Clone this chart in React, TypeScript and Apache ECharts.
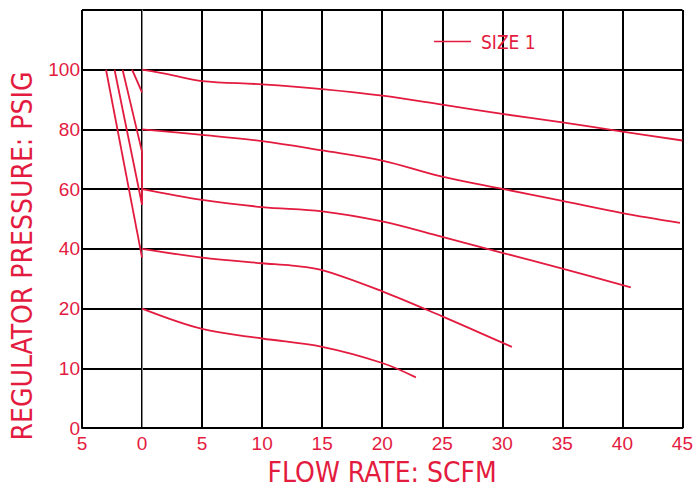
import React, { useEffect, useRef } from "react";
import * as echarts from "echarts";

// Flow (SCFM) and regulator pressure (PSIG)
const curve100X = [0, 2.5, 5, 10, 15, 20, 25, 30, 35, 40, 45];
const curve100Y = [100, 98.2, 96.2, 95.1, 93.5, 91.3, 88.3, 85.2, 82.4, 79.3, 76.3];
const curve80X = [0, 5, 10, 15, 20, 25, 30, 35, 40, 44.8];
const curve80Y = [80, 78.2, 76.1, 73, 69.6, 64.2, 60.1, 56.1, 52.0, 48.7];
const curve60X = [0, 5, 10, 15, 20, 25, 30, 35, 40.7];
const curve60Y = [60, 56.4, 54.0, 52.6, 49.2, 44, 38.7, 33.4, 27.1];
const curve40X = [0, 5, 10, 12.5, 15, 20, 25, 30, 30.8];
const curve40Y = [40, 37.1, 35.2, 34.4, 32.9, 25.8, 18.7, 14.3, 13.6];
const curve20X = [0, 5, 10, 15, 20, 22.8];
const curve20Y = [20, 16.6, 15.0, 13.6, 10.9, 8.5];
// relief / zero-flow lines on the left side
const reliefAX = [-0.83, 0];
const reliefAY = [100, 92.4];
const reliefBX = [-1.62, 0, 0];
const reliefBY = [100, 72.5, 54.8];
const reliefCX = [-2.29, 0];
const reliefCY = [100, 54.8];
const reliefDX = [-3.0, 0];
const reliefDY = [100, 37.1];

const xTicks = [-5, 0, 5, 10, 15, 20, 25, 30, 35, 40, 45];
const yTickLabels = ["0", "10", "20", "40", "60", "80", "100", ""];
const seriesName = "SIZE 1";

const RED = "#e31b3f";

// the printed pressure scale is 10 psig per grid row below 20, 20 psig per row above
function toAxis(p: number): number {
  return p >= 20 ? p + 20 : p * 2;
}

function pairs(xs: number[], ys: number[]) {
  return xs.map((x, i) => [x, toAxis(ys[i])]);
}

export default function App() {
  const ref = useRef<HTMLDivElement>(null);
  useEffect(() => {
    if (!ref.current) return;
    const chart = echarts.init(ref.current, undefined, { renderer: "svg" });
    const curves = [
      { xs: curve100X, ys: curve100Y, smooth: true },
      { xs: curve80X, ys: curve80Y, smooth: true },
      { xs: curve60X, ys: curve60Y, smooth: true },
      { xs: curve40X, ys: curve40Y, smooth: true },
      { xs: curve20X, ys: curve20Y, smooth: true },
      { xs: reliefAX, ys: reliefAY, smooth: false },
      { xs: reliefBX, ys: reliefBY, smooth: false },
      { xs: reliefCX, ys: reliefCY, smooth: false },
      { xs: reliefDX, ys: reliefDY, smooth: false },
    ];
    const condensed = "'Liberation Sans Narrow', 'DejaVu Sans Condensed', 'Roboto Condensed', sans-serif";
    chart.setOption({
      animation: false,
      backgroundColor: "#ffffff",
      grid: { left: 82, right: 10, top: 10, bottom: 59, containLabel: false },
      legend: {
        data: [seriesName],
        left: 429,
        top: 27,
        itemWidth: 37,
        itemHeight: 14,
        itemGap: 0,
        icon: "path://M0,6 L37,6 L37,7.6 L0,7.6 Z",
        itemStyle: { color: RED },
        textStyle: {
          color: RED,
          fontSize: 19,
          fontFamily: condensed,
          padding: [0, 0, 0, 5],
        },
      },
      xAxis: {
        type: "value",
        min: -5,
        max: 45,
        interval: 5,
        name: "FLOW RATE: SCFM",
        nameLocation: "middle",
        nameGap: 22,
        nameTextStyle: { color: RED, fontSize: 28, fontFamily: condensed },
        axisLine: { show: true, lineStyle: { color: "#000", width: 2 } },
        axisTick: { show: false },
        axisLabel: {
          color: RED,
          fontSize: 19,
          fontFamily: "'Liberation Sans', Arial, sans-serif",
          margin: 6,
          formatter: (v: number) => (xTicks.indexOf(v) >= 0 ? String(Math.abs(v)) : ""),
        },
        splitLine: { show: true, lineStyle: { color: "#000", width: 2 } },
      },
      yAxis: {
        type: "value",
        min: 0,
        max: 140,
        interval: 20,
        axisLine: { show: true, lineStyle: { color: "#888", width: 1 } },
        axisTick: { show: false },
        axisLabel: {
          color: RED,
          fontSize: 19,
          fontFamily: "'Liberation Sans', Arial, sans-serif",
          margin: 2,
          formatter: (v: number) => yTickLabels[Math.round(v / 20)] ?? "",
        },
        splitLine: { show: true, lineStyle: { color: "#000", width: 2 } },
      },
      graphic: [
        {
          type: "text",
          x: 22,
          y: 256,
          rotation: Math.PI / 2,
          style: {
            text: "REGULATOR PRESSURE: PSIG",
            fill: RED,
            font: `28px ${condensed}`,
            textAlign: "center",
            textVerticalAlign: "middle",
          },
        },
      ],
      series: curves.map((c) => ({
        name: seriesName,
        type: "line",
        smooth: c.smooth ? 0.35 : false,
        symbol: "none",
        lineStyle: { color: RED, width: 1.8 },
        itemStyle: { color: RED },
        data: pairs(c.xs, c.ys),
        z: 5,
      })),
    });
    return () => chart.dispose();
  }, []);
  return <div ref={ref} style={{ width: 696, height: 491, position: "absolute", left: 0, top: 0 }} />;
}
